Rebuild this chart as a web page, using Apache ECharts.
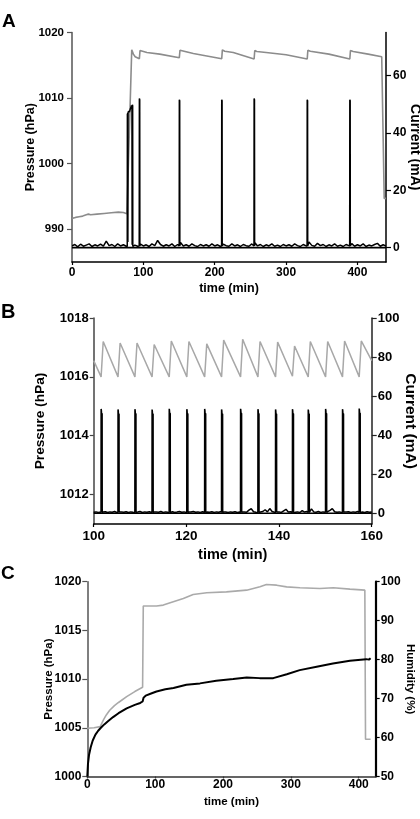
<!DOCTYPE html>
<html><head><meta charset="utf-8">
<script src="https://cdn.jsdelivr.net/npm/echarts@6/dist/echarts.min.js"></script>
<style>html,body{margin:0;padding:0;background:#fff}#c{width:420px;height:819px}</style>
</head><body><div id="c"></div>
<script>
// ---------------- Panel A ----------------
const aTimeRange = [0, 440];
const aTimeTicks = [0, 100, 200, 300, 400];
const aPresTicks = [990, 1000, 1010, 1020];
const aCurTicks = [0, 20, 40, 60];
// pressure (hPa) [time min, value]
const aPressure = [[0,991.65],[5,991.8],[10,991.9],[15,992.0],[20,992.2],[23,992.3],[26,992.2],[35,992.3],[45,992.4],[55,992.5],[65,992.6],[72,992.55],[77,992.35],[79.5,992.2],[83.7,1017.35],[86,1016.7],[88.5,1016.3],[94.4,1016.0],[95.3,1017.25],[98,1017.1],[105,1016.95],[123,1016.7],[150.4,1016.15],[151.3,1017.3],[154,1017.15],[170,1016.8],[209.8,1016.0],[210.7,1017.35],[214,1017.15],[226,1016.95],[255.2,1015.95],[256.1,1017.25],[259,1017.1],[272,1016.95],[300,1016.6],[329.6,1015.95],[330.5,1017.3],[334,1017.15],[360,1016.7],[389.3,1015.95],[390.2,1017.25],[394,1017.1],[415,1016.7],[434,1016.3],[436.5,1016.2],[437.5,994.7],[440,994.7]];
// current baseline (mA), sampled every 4 min from 0
const aBaseT0 = 0, aBaseStep = 4;
const aBaseVals = [0.6,1.1,0.3,1.2,0.5,0.9,1.3,0.4,1.0,0.6,
 1.2,0.5,2.3,0.7,1.1,0.4,1.3,0.6,1.0,0.5,
 0.5,0.5,0.9,0.5,1.2,0.6,1.0,0.4,1.3,0.7,
 2.5,1.1,0.5,1.0,0.6,1.3,0.4,1.1,1.8,0.6,
 1.0,0.5,1.3,0.7,0.4,1.1,0.6,1.0,0.5,1.3,
 0.6,1.0,0.4,1.2,0.7,0.5,1.3,0.6,1.0,0.4,
 1.1,0.7,0.5,1.3,1.8,0.6,1.1,0.4,1.0,0.6,
 1.3,0.5,0.9,0.4,1.1,0.6,1.0,0.5,1.3,0.7,
 0.4,1.1,0.6,2.0,0.8,0.5,1.5,0.7,1.1,0.4,
 1.0,0.6,1.3,0.5,0.9,0.4,1.1,0.7,1.4,0.5,
 1.0,0.6,1.3,0.4,0.9,0.6,1.1,1.5,0.5,1.0,
 0.6];
// current events (mA)
const aCurrentEvents = [
 [[77.4,0.4],[77.6,46.5],[78.0,46.8],[78.3,2.0],[78.6,47.2],[79.5,47.6],[80.5,47.3],[81.5,48.2],[82.5,48.8],[83.3,49.6],[84.0,49.2],[84.3,1.0],[84.6,49.8],[85.0,49.5],[85.2,0.4]],
 [[94.2,0.6],[94.4,52.0],[94.9,51.6],[95.1,0.6]],
 [[150.2,0.6],[150.4,51.6],[150.9,51.2],[151.1,0.6]],
 [[209.6,0.6],[209.8,51.6],[210.3,51.2],[210.5,0.6]],
 [[255.0,0.6],[255.2,52.0],[255.7,51.6],[255.9,0.6]],
 [[329.4,0.6],[329.6,51.6],[330.1,51.2],[330.3,0.6]],
 [[389.1,0.6],[389.3,51.6],[389.8,51.2],[390.0,0.6]]
];

// ---------------- Panel B ----------------
const bTimeRange = [100, 160];
const bTimeTicks = [100, 120, 140, 160];
const bPresTicks = [1012, 1014, 1016, 1018];
const bCurTicks = [0, 20, 40, 60, 80, 100];
const bPressure = [[100,1016.55],[101.6,1016.0],[102.05,1017.2],[105.25,1016.0],[105.7,1017.15],[108.9,1016.0],[109.35,1017.15],[112.6,1016.0],[113.05,1017.1],[116.3,1016.0],[116.75,1017.22],[120.1,1016.0],[120.55,1017.2],[123.95,1016.0],[124.4,1017.12],[127.6,1016.0],[128.05,1017.25],[131.7,1016.0],[132.15,1017.28],[135.45,1016.0],[135.9,1017.2],[139.25,1016.0],[139.7,1017.18],[142.9,1016.02],[143.35,1017.05],[146.3,1016.0],[146.75,1017.2],[150.05,1016.0],[150.5,1017.2],[153.7,1016.0],[154.15,1017.22],[157.3,1016.0],[157.75,1017.22],[160,1016.55]];
const bBaseT0 = 100, bBaseStep = 0.5;
const bBaseVals = [0.5,0.7,0.4,0.6,0.6,0.8,0.4,0.7,0.5,0.9,
 0.4,0.6,0.6,0.5,0.8,0.4,0.7,0.5,0.6,0.6,
 0.9,0.4,0.7,0.5,0.8,0.4,0.6,0.6,0.5,0.9,
 0.4,0.7,0.5,0.6,0.8,0.4,0.6,0.9,0.5,0.7,
 0.4,0.6,0.6,0.9,0.5,0.7,0.4,0.8,0.6,0.6,
 0.5,0.8,0.4,0.7,0.5,0.9,0.6,0.6,0.4,0.7,
 0.5,0.8,0.4,0.6,0.6,0.7,0.5,1.6,2.3,0.8,
 0.5,0.6,0.6,0.9,1.8,0.7,2.4,0.9,0.5,0.6,
 0.7,0.4,1.2,2.0,0.6,0.8,0.6,0.5,0.7,0.4,
 1.3,0.6,0.9,0.6,2.2,0.7,0.5,0.9,0.4,0.7,
 0.5,0.8,1.5,2.4,0.8,0.5,0.7,0.4,0.6,0.6,
 0.8,0.4,0.7,0.5,0.9,0.6,0.6,0.4,0.8,0.5,
 0.7];
const bSpikeT = [101.6,105.25,108.9,112.6,116.3,120.1,123.95,127.6,131.7,135.45,139.25,142.9,146.3,150.05,153.7,157.3];
const bSpikePeak = [53.4,53.2,53.3,53.1,53.5,53.3,53.4,53.2,53.5,53.3,53.2,53.3,53.1,53.4,53.3,53.6];
const bSpikeShoulder = [51.2,51.0,51.1,51.0,51.3,51.1,51.2,51.0,51.3,51.1,51.0,51.1,51.0,51.2,51.1,51.4];

// ---------------- Panel C ----------------
const cTimeTicks = [0, 100, 200, 300, 400];
const cPresTicks = [1000, 1005, 1010, 1015, 1020];
const cHumTicks = [50, 60, 70, 80, 90, 100];
const cPressure = [[0,1000.0],[1,1001.3],[2.5,1002.2],[5,1003.0],[8,1003.7],[12,1004.3],[16,1004.7],[20,1005.0],[25,1005.35],[30,1005.65],[38,1006.1],[46,1006.5],[58,1007.0],[70,1007.35],[78,1007.55],[81.5,1007.7],[83,1008.1],[86,1008.3],[95,1008.55],[102,1008.73],[115,1008.95],[127,1009.08],[146,1009.42],[166,1009.56],[190,1009.83],[215,1010.0],[235,1010.17],[254,1010.1],[274,1010.1],[294,1010.5],[313,1010.92],[338,1011.27],[362,1011.6],[387,1011.88],[411,1012.05],[415,1012.0],[417.5,1012.15]];
const cHumidity = [[0,62.4],[10,62.5],[19,62.8],[20.5,62.9],[24,64.6],[28,65.8],[33,67.0],[40,68.2],[46,69.0],[58,70.5],[70,71.8],[81.5,72.9],[82.5,93.75],[102,93.75],[112,93.99],[126.7,94.84],[141.5,95.7],[156,96.72],[176,97.15],[205,97.4],[234.8,97.83],[254.4,98.68],[264,99.28],[279,99.11],[293.7,98.68],[313.4,98.43],[342.8,98.26],[362.5,98.43],[387,98.09],[409,97.83],[410,59.56],[417.5,59.56]];

// ---------------- helpers ----------------
function mergeTrace(t0, step, vals, events) {
  const spans = events.map(e => [e[0][0], e[e.length - 1][0]]);
  const pts = [];
  vals.forEach((v, i) => {
    const t = t0 + i * step;
    if (!spans.some(s => t >= s[0] && t <= s[1])) pts.push([t, v]);
  });
  events.forEach(e => e.forEach(p => pts.push(p)));
  pts.sort((a, b) => a[0] - b[0]);
  return pts;
}
const bCurrentEvents = bSpikeT.map((t, i) => [[t - 0.02, 0.4], [t, bSpikePeak[i]], [t + 0.05, bSpikePeak[i] - 0.6], [t + 0.09, bSpikeShoulder[i]], [t + 0.22, bSpikeShoulder[i] - 0.2], [t + 0.24, 0.4]]);
const aCurrent = mergeTrace(aBaseT0, aBaseStep, aBaseVals, aCurrentEvents);
const bCurrent = mergeTrace(bBaseT0, bBaseStep, bBaseVals, bCurrentEvents);

// exact polyline (no segment skipping) drawn through the axes' scales
function traceSeries(xi, yi, pts, width, xRange) {
  return {
    type: 'custom', coordinateSystem: 'cartesian2d', xAxisIndex: xi, yAxisIndex: yi,
    data: [pts[0]], silent: true, z: 3, clip: true,
    renderItem: (params, api) => ({
      type: 'group',
      children: [
        { type: 'line', shape: (() => { const p0 = api.coord([xRange[0], 0]), p1 = api.coord([xRange[1], 0]); return { x1: p0[0], y1: p0[1], x2: p1[0], y2: p1[1] }; })(),
          style: { stroke: '#000', lineWidth: 1.6 } },
        { type: 'polyline', shape: { points: pts.map(p => api.coord(p)) },
          style: { stroke: '#000', lineWidth: width, fill: null, lineJoin: 'bevel' } }
      ]
    })
  };
}

const FONT = '"Liberation Sans", Arial, Helvetica, sans-serif';
function axis(p) {
  return {
    type: 'value', gridIndex: p.grid, position: p.pos, min: p.min, max: p.max,
    name: p.name || '', nameLocation: 'middle', nameGap: p.nameGap || 20, nameRotate: p.nameRotate,
    nameMoveOverlap: false,
    nameTextStyle: { color: '#000', fontWeight: 'bold', fontFamily: FONT, fontSize: p.nameSize || 13 },
    splitLine: { show: false },
    axisLine: { show: true, onZero: false, lineStyle: { color: p.lineColor || '#000', width: p.lineWidth || 1.5 } },
    axisTick: { show: true, inside: false, length: p.tickLen == null ? 4 : p.tickLen, customValues: p.ticks, lineStyle: { color: p.lineColor || '#000', width: 1.2 } },
    axisLabel: { show: true, customValues: p.ticks, formatter: v => String(v), margin: p.margin || 6, color: '#000', fontWeight: 'bold', fontFamily: FONT, fontSize: p.labelSize || 12 }
  };
}

const option = {
  animation: false,
  backgroundColor: '#fff',
  title: [
    { text: 'A', left: 2, top: 12, padding: 0, textStyle: { fontSize: 19, fontWeight: 'bold', fontFamily: FONT, color: '#000' } },
    { text: 'B', left: 1, top: 302, padding: 0, textStyle: { fontSize: 20, fontWeight: 'bold', fontFamily: FONT, color: '#000' } },
    { text: 'C', left: 1, top: 564, padding: 0, textStyle: { fontSize: 19, fontWeight: 'bold', fontFamily: FONT, color: '#000' } }
  ],
  grid: [
    { left: 72, top: 32.5, width: 314, height: 229.5, outerBoundsMode: 'none', containLabel: false },
    { left: 93.7, top: 318, width: 278, height: 206, outerBoundsMode: 'none', containLabel: false },
    { left: 87.3, top: 581.7, width: 288.4, height: 194.8, outerBoundsMode: 'none', containLabel: false }
  ],
  xAxis: [
    axis({ grid: 0, pos: 'bottom', min: aTimeRange[0], max: aTimeRange[1], ticks: aTimeTicks, name: 'time (min)', nameGap: 20, nameSize: 12.5, labelSize: 12, tickLen: 3, margin: 5 }),
    axis({ grid: 1, pos: 'bottom', min: bTimeRange[0], max: bTimeRange[1], ticks: bTimeTicks, name: 'time (min)', nameGap: 23, nameSize: 14.5, labelSize: 13.5, tickLen: 3, margin: 5 }),
    axis({ grid: 2, pos: 'bottom', min: 0, max: 425, ticks: cTimeTicks, name: 'time (min)', nameGap: 19, nameSize: 11.5, labelSize: 12, tickLen: 2, margin: 2, lineColor: '#333' })
  ],
  yAxis: [
    axis({ grid: 0, pos: 'left', min: 985, max: 1020, ticks: aPresTicks, name: 'Pressure (hPa)', nameGap: 35, nameSize: 12.5, labelSize: 11.5, tickLen: 5, margin: 8, lineColor: '#555' }),
    axis({ grid: 0, pos: 'right', min: -5, max: 75, ticks: aCurTicks, name: 'Current (mA)', nameGap: 22, nameRotate: -90, nameSize: 14, labelSize: 12, tickLen: 5, margin: 7 }),
    axis({ grid: 1, pos: 'left', min: 1011, max: 1018, ticks: bPresTicks, name: 'Pressure (hPa)', nameGap: 46, nameSize: 13.7, labelSize: 13, tickLen: 4, margin: 5, lineColor: '#444' }),
    axis({ grid: 1, pos: 'right', min: -5.5, max: 100, ticks: bCurTicks, name: 'Current (mA)', nameGap: 31, nameRotate: -90, nameSize: 15.5, labelSize: 13, tickLen: 5, margin: 6, lineColor: '#222' }),
    axis({ grid: 2, pos: 'left', min: 1000, max: 1020, ticks: cPresTicks, name: 'Pressure (hPa)', nameGap: 32, nameSize: 11.5, labelSize: 12, tickLen: 5, margin: 6, lineColor: '#555' }),
    axis({ grid: 2, pos: 'right', min: 50, max: 100, ticks: cHumTicks, name: 'Humidity (%)', nameGap: 28, nameRotate: -90, nameSize: 11.5, labelSize: 12, tickLen: 4, margin: 5, lineWidth: 2.2 })
  ],
  series: [
    { type: 'line', name: 'A pressure', xAxisIndex: 0, yAxisIndex: 0, data: aPressure, showSymbol: false, symbol: 'none', lineStyle: { color: '#8c8c8c', width: 1.6 }, z: 2 },
    traceSeries(0, 1, aCurrent, 1.5, aTimeRange),
    { type: 'line', name: 'B pressure', xAxisIndex: 1, yAxisIndex: 2, data: bPressure, showSymbol: false, symbol: 'none', lineStyle: { color: '#a8a8a8', width: 1.5 }, z: 2 },
    traceSeries(1, 3, bCurrent, 1.5, bTimeRange),
    { type: 'line', name: 'C humidity', xAxisIndex: 2, yAxisIndex: 5, data: cHumidity, showSymbol: false, symbol: 'none', lineStyle: { color: '#aaaaaa', width: 1.6 }, z: 2 },
    { type: 'line', name: 'C pressure', xAxisIndex: 2, yAxisIndex: 4, data: cPressure, showSymbol: false, symbol: 'none', lineStyle: { color: '#000', width: 2 }, z: 3 }
  ]
};
const chart = echarts.init(document.getElementById('c'), null, { renderer: 'canvas', width: 420, height: 819 });
chart.setOption(option);
</script>
</body></html>
